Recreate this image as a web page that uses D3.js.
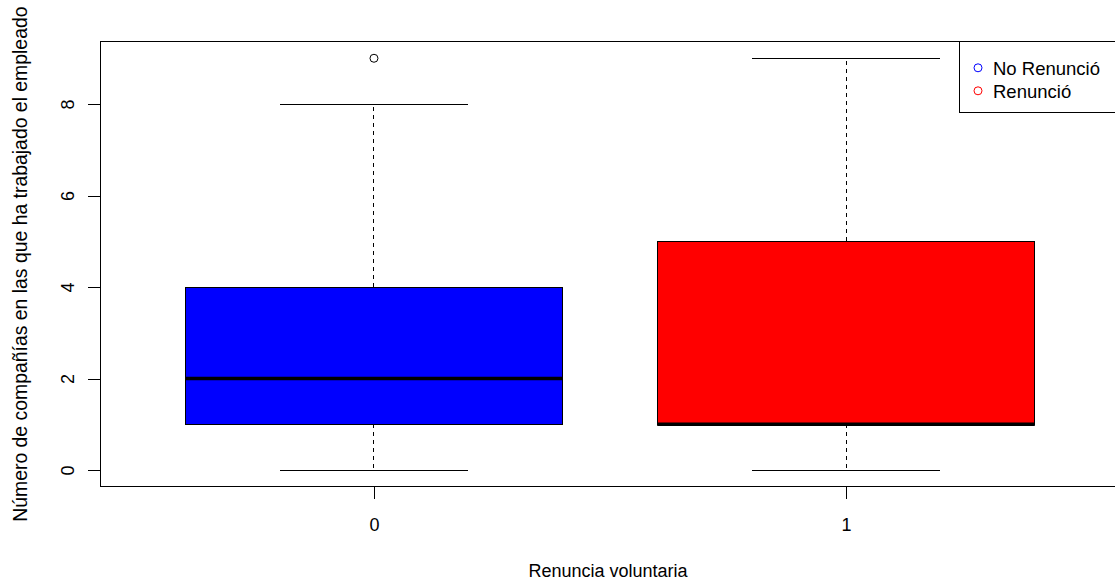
<!DOCTYPE html>
<html>
<head>
<meta charset="utf-8">
<script src="https://cdn.jsdelivr.net/npm/d3@7"></script>
<style>
  body { margin: 0; background: #fff; }
  text { font-family: "Liberation Sans", Arial, sans-serif; fill: #000; }
  line, rect { shape-rendering: crispEdges; }
</style>
</head>
<body>
<div id="chart"></div>
<script>
// box plot: compañías trabajadas vs renuncia voluntaria
var groups = ['0', '1'];
var labels = ['No Renunció', 'Renunció'];
var colors = ['#0000ff', '#ff0000'];
var whiskerLow = [0, 0];
var q1 = [1, 1];
var median = [2, 1];
var q3 = [4, 5];
var whiskerHigh = [8, 9];
var outliers = [[9], []];
var yTicks = [0, 2, 4, 6, 8];

var width = 1115,
  height = 583;

var data = groups.map(function(g, i) {
  return {
    group: g, pos: i + 1, label: labels[i], color: colors[i],
    lo: whiskerLow[i], q1: q1[i], med: median[i], q3: q3[i], hi: whiskerHigh[i],
    out: outliers[i]
  };
});

// R style: domain padded by 4%
var x = d3.scaleLinear().domain([0.42, 2.58]).range([100.2, 1119.8]);
var y = d3.scaleLinear().domain([-0.36, 9.36]).range([486.5, 41.8]);

var svg = d3.select('#chart').append('svg')
  .attr('width', width)
  .attr('height', height);

var boxW = 0.8, capW = 0.4;

var g = svg.append('g');

var box = g.selectAll('.box').data(data).enter()
  .append('g').attr('class', 'box');

// whiskers (dashed)
box.append('line')
  .attr('x1', function(d) { return x(d.pos); })
  .attr('x2', function(d) { return x(d.pos); })
  .attr('y1', function(d) { return y(d.q3); })
  .attr('y2', function(d) { return y(d.hi); })
  .style('stroke', '#000').style('stroke-dasharray', '4,4');
box.append('line')
  .attr('x1', function(d) { return x(d.pos); })
  .attr('x2', function(d) { return x(d.pos); })
  .attr('y1', function(d) { return y(d.q1); })
  .attr('y2', function(d) { return y(d.lo); })
  .style('stroke', '#000').style('stroke-dasharray', '4,4');

// caps
['hi', 'lo'].forEach(function(k) {
  box.append('line')
    .attr('x1', function(d) { return x(d.pos - capW / 2); })
    .attr('x2', function(d) { return x(d.pos + capW / 2); })
    .attr('y1', function(d) { return y(d[k]); })
    .attr('y2', function(d) { return y(d[k]); })
    .style('stroke', '#000');
});

box.append('rect')
  .attr('x', function(d) { return x(d.pos - boxW / 2); })
  .attr('width', function(d) { return x(d.pos + boxW / 2) - x(d.pos - boxW / 2); })
  .attr('y', function(d) { return y(d.q3); })
  .attr('height', function(d) { return y(d.q1) - y(d.q3); })
  .style('fill', function(d) { return d.color; })
  .style('stroke', '#000');

box.append('line')
  .attr('x1', function(d) { return x(d.pos - boxW / 2); })
  .attr('x2', function(d) { return x(d.pos + boxW / 2); })
  .attr('y1', function(d) { return y(d.med); })
  .attr('y2', function(d) { return y(d.med); })
  .style('stroke', '#000').style('stroke-width', 3.5)
  .style('shape-rendering', 'auto');

box.selectAll('circle.out')
  .data(function(d) { return d.out.map(function(v) { return { pos: d.pos, v: v }; }); })
  .enter().append('circle')
  .attr('class', 'out')
  .attr('cx', function(d) { return x(d.pos); })
  .attr('cy', function(d) { return y(d.v); })
  .attr('r', 4)
  .style('fill', 'none').style('stroke', '#000');

// frame
svg.append('rect')
  .attr('x', x(0.42)).attr('y', y(9.36))
  .attr('width', x(2.58) - x(0.42))
  .attr('height', y(-0.36) - y(9.36))
  .style('fill', 'none').style('stroke', '#000');

// y axis
var yAxis = svg.append('g')
  .attr('transform', 'translate(' + x(0.42) + ',0)')
  .call(d3.axisLeft(y).tickValues(yTicks).tickSize(12).tickPadding(0).tickFormat(d3.format('d')));
yAxis.select('.domain').remove();
yAxis.selectAll('.tick line').style('stroke', '#000');
yAxis.selectAll('text')
  .attr('transform', 'translate(-26,0) rotate(-90)')
  .attr('x', 0).attr('dy', 0).attr('y', 0)
  .attr('text-anchor', 'middle')
  .style('font-size', '18px')
  .style('font-family', '"Liberation Sans", Arial, sans-serif');

// x axis
var xAxis = svg.append('g')
  .attr('transform', 'translate(0,' + y(-0.36) + ')')
  .call(d3.axisBottom(x).tickValues([1, 2]).tickSize(12).tickPadding(0)
    .tickFormat(function(d) { return groups[d - 1]; }));
xAxis.select('.domain').remove();
xAxis.selectAll('.tick line').style('stroke', '#000');
xAxis.selectAll('text')
  .attr('y', 44.5).attr('dy', 0)
  .style('font-size', '18px')
  .style('font-family', '"Liberation Sans", Arial, sans-serif');

// axis titles
svg.append('text')
  .attr('x', 608)
  .attr('y', 577)
  .attr('text-anchor', 'middle')
  .style('font-size', '18px')
  .text('Renuncia voluntaria');

svg.append('text')
  .attr('transform', 'translate(27,' + (y(-0.36) + y(9.36)) / 2 + ') rotate(-90)')
  .attr('text-anchor', 'middle')
  .style('font-size', '19.4px')
  .text('Número de compañías en las que ha trabajado el empleado');

// legend
var legend = svg.append('g').attr('transform', 'translate(959,' + y(9.36) + ')');
legend.append('rect')
  .attr('width', 170).attr('height', 71)
  .style('fill', '#fff').style('stroke', '#000');
var item = legend.selectAll('.item').data(data).enter()
  .append('g').attr('class', 'item')
  .attr('transform', function(d, i) { return 'translate(0,' + (26 + i * 23) + ')'; });
item.append('circle')
  .attr('cx', 19).attr('cy', 0).attr('r', 4)
  .style('fill', 'none')
  .style('stroke', function(d) { return d.color; });
item.append('text')
  .attr('x', 34).attr('y', 7)
  .style('font-size', '18.5px')
  .text(function(d) { return d.label; });
</script>
</body>
</html>
